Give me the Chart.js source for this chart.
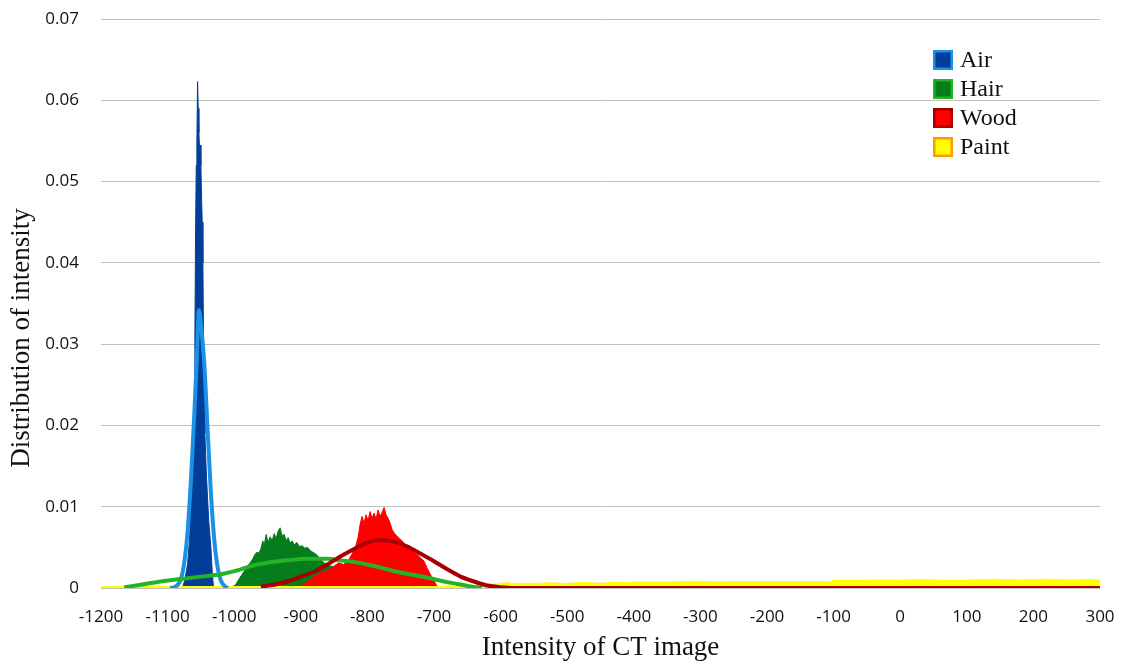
<!DOCTYPE html>
<html>
<head>
<meta charset="utf-8">
<title>Distribution of intensity</title>
<script src="https://cdn.jsdelivr.net/npm/chart.js@4.4.1/dist/chart.umd.min.js"></script>
<style>
  html, body { margin: 0; padding: 0; background: #fff; }
  #wrap { width: 1121px; height: 664px; }
</style>
</head>
<body>
<div id="wrap"><canvas id="chart" width="1121" height="664"></canvas></div>
<script>
// series names and axis labels
const seriesNames = ['Air', 'Hair', 'Wood', 'Paint'];
const yTickLabels = ['0', '0.01', '0.02', '0.03', '0.04', '0.05', '0.06', '0.07'];
const xTitle = 'Intensity of CT image';
const yTitle = 'Distribution of intensity';

// histograms, [intensity, distribution]
const airHist = [
  [-1078, 0], [-1074, 0.001], [-1070, 0.003], [-1067, 0.006], [-1064, 0.0125], [-1062, 0.017],
  [-1060, 0.022], [-1059, 0.031], [-1058, 0.044], [-1057, 0.052], [-1056, 0.055], [-1055, 0.0623],
  [-1054, 0.059], [-1053, 0.056], [-1052, 0.054], [-1051, 0.0545], [-1050, 0.052], [-1049, 0.048],
  [-1048, 0.045], [-1047, 0.040], [-1046, 0.030], [-1045, 0.024], [-1044, 0.019], [-1042, 0.0145],
  [-1040, 0.011], [-1038, 0.008], [-1035, 0.005], [-1033, 0.002], [-1031, 0]
];
const hairHist = [
  [-1005, 0], [-998, 0.0004], [-992, 0.0012], [-988, 0.0017], [-984, 0.0022], [-980, 0.0027],
  [-976, 0.0031], [-972, 0.0036], [-969, 0.0041], [-966, 0.0044], [-963, 0.0043], [-960, 0.0048],
  [-957, 0.0058], [-955, 0.0052], [-952, 0.0066], [-949, 0.0056], [-946, 0.0063], [-943, 0.0058],
  [-940, 0.0067], [-937, 0.0061], [-934, 0.0070], [-931, 0.0074], [-928, 0.0064], [-925, 0.0066],
  [-922, 0.0058], [-919, 0.0062], [-916, 0.0055], [-913, 0.0058], [-910, 0.0053], [-906, 0.0056],
  [-902, 0.0051], [-898, 0.0052], [-894, 0.0049], [-890, 0.0050], [-886, 0.0046], [-882, 0.0044],
  [-878, 0.0042], [-874, 0.0039], [-870, 0.0035], [-865, 0.0031], [-860, 0.0028], [-850, 0.0026],
  [-840, 0.0030], [-830, 0.0022], [-820, 0.0016], [-810, 0.0010], [-800, 0.0005], [-790, 0]
];
const woodHist = [
  [-905, 0], [-890, 0.0008], [-878, 0.0015], [-868, 0.0020], [-858, 0.0022], [-850, 0.0027],
  [-843, 0.0031], [-836, 0.0029], [-829, 0.0033], [-823, 0.0042], [-818, 0.0050], [-814, 0.0062],
  [-811, 0.0078], [-808, 0.0088], [-805, 0.0080], [-802, 0.0090], [-799, 0.0083], [-796, 0.0094],
  [-793, 0.0086], [-790, 0.0092], [-787, 0.0085], [-784, 0.0096], [-781, 0.0088], [-778, 0.0093],
  [-775, 0.0099], [-772, 0.0090], [-769, 0.0086], [-766, 0.0080], [-763, 0.0072], [-760, 0.0068],
  [-756, 0.0064], [-752, 0.0061], [-748, 0.0058], [-744, 0.0054], [-740, 0.0051], [-735, 0.0047],
  [-730, 0.0044], [-725, 0.0041], [-720, 0.0037], [-715, 0.0033], [-710, 0.0024], [-705, 0.0016],
  [-700, 0.0009], [-694, 0]
];
const paintHist = [
  [-1200, 0], [-620, 0], [-616, 0.0003], [-600, 0.00035], [-590, 0.0005], [-585, 0.00035],
  [-560, 0.0004], [-546, 0.00038], [-530, 0.00045], [-500, 0.00038], [-480, 0.0005], [-450, 0.0004],
  [-430, 0.00052], [-410, 0.00045], [-400, 0.00054], [-350, 0.00056], [-320, 0.00065], [-270, 0.00058],
  [-230, 0.0006], [-200, 0.00062], [-165, 0.0006], [-130, 0.0006], [-101, 0.00058], [-100, 0.00076],
  [-60, 0.00078], [-20, 0.0008], [0, 0.00078], [30, 0.0009], [60, 0.00078], [100, 0.0008],
  [140, 0.0009], [180, 0.0008], [220, 0.0009], [260, 0.0008], [280, 0.0009], [300, 0.0008]
];

// fitted curves
const airFit = [
  [-1096, 0], [-1090, 0.0001], [-1085, 0.0004], [-1080, 0.0011], [-1075, 0.0031], [-1070, 0.0069],
  [-1065, 0.0132], [-1060, 0.0212], [-1056, 0.0285], [-1053, 0.0342], [-1050, 0.0325], [-1045, 0.0277],
  [-1040, 0.0196], [-1035, 0.0117], [-1030, 0.0060], [-1025, 0.0026], [-1020, 0.0009], [-1015, 0.0003],
  [-1010, 0]
];
const hairFit = [
  [-1165, 0.0001], [-1140, 0.0004], [-1110, 0.0008], [-1080, 0.0011], [-1050, 0.0014], [-1020, 0.0017],
  [-990, 0.0023], [-970, 0.0028], [-950, 0.0031], [-920, 0.0034], [-890, 0.0036], [-860, 0.0036],
  [-840, 0.0034], [-820, 0.0032], [-800, 0.0029], [-780, 0.0025], [-756, 0.0020], [-730, 0.0016],
  [-706, 0.0012], [-685, 0.0008], [-665, 0.0005], [-645, 0.0002], [-628, 0]
];
const woodFit = [
  [-960, 0.0002], [-940, 0.0004], [-920, 0.0008], [-900, 0.0014], [-880, 0.0020], [-860, 0.0029],
  [-840, 0.0039], [-820, 0.0048], [-800, 0.0056], [-780, 0.0059], [-760, 0.0057], [-740, 0.0051],
  [-720, 0.0042], [-700, 0.0033], [-680, 0.0023], [-660, 0.0014], [-640, 0.0008], [-620, 0.0003],
  [-600, 0.0001], [-580, 0], [300, 0]
];

const fillColors = ['#023d97', '#067d1c', '#ff0000', '#ffff00'];
const edgeColors = ['#1a90e6', '#25b325', '#a80000', '#ff9a00'];

const pts = arr => arr.map(([x, y]) => ({ x, y }));

function histSet(name, arr, color, order) {
  return {
    label: name, data: pts(arr), order,
    borderColor: color, backgroundColor: color,
    borderWidth: 1, pointRadius: 0, fill: 'origin', tension: 0
  };
}
function fitSet(name, arr, color, order) {
  return {
    label: name + ' fit', data: pts(arr), order,
    borderColor: color, borderWidth: 4, pointRadius: 0, fill: false,
    cubicInterpolationMode: 'monotone'
  };
}

// draws legend inside the plot and the vertical axis title
const overlay = {
  id: 'overlay',
  afterDraw(chart) {
    const { ctx, chartArea } = chart;
    ctx.save();
    const left = chartArea.right - 167;
    ctx.font = '24px "Liberation Serif"';
    ctx.textBaseline = 'middle';
    ctx.textAlign = 'left';
    seriesNames.forEach((name, i) => {
      const y = chartArea.top + 41 + i * 29;
      ctx.fillStyle = fillColors[i];
      ctx.fillRect(left, y - 10, 20, 20);
      ctx.strokeStyle = edgeColors[i];
      ctx.lineWidth = 2.5;
      ctx.strokeRect(left + 1.25, y - 8.75, 17.5, 17.5);
      ctx.fillStyle = '#111';
      ctx.fillText(name, left + 27, y + 1);
    });
    ctx.translate(22, 338);
    ctx.rotate(-Math.PI / 2);
    ctx.textAlign = 'center';
    ctx.font = '27px "Liberation Serif"';
    ctx.fillText(yTitle, 0, 0);
    ctx.restore();
  }
};

new Chart(document.getElementById('chart'), {
  type: 'line',
  data: {
    datasets: [
      fitSet('Wood', woodFit, edgeColors[2], 0),
      fitSet('Hair', hairFit, edgeColors[1], 1),
      fitSet('Air', airFit, edgeColors[0], 2),
      Object.assign(histSet('Paint', paintHist, fillColors[3], 3), { borderWidth: 4 }),
      histSet('Wood', woodHist, fillColors[2], 4),
      histSet('Hair', hairHist, fillColors[1], 5),
      histSet('Air', airHist, fillColors[0], 6)
    ]
  },
  options: {
    responsive: false,
    animation: false,
    layout: { padding: { top: 19, right: 21, left: 0, bottom: 0 } },
    plugins: { legend: { display: false }, tooltip: { enabled: false } },
    scales: {
      x: {
        type: 'linear', min: -1200, max: 300,
        afterFit: s => { s.height = 76; s.paddingLeft = 0; s.paddingRight = 0; },
        grid: { display: false },
        border: { display: false },
        ticks: {
          stepSize: 100, padding: 11, maxRotation: 0, autoSkip: false,
          color: '#111', font: { family: 'Open Sans', size: 17 },
          callback: v => String(v)
        },
        title: {
          display: true, text: xTitle, color: '#111',
          font: { family: 'Liberation Serif', size: 27 },
          padding: { top: -1, bottom: 0 }
        }
      },
      y: {
        min: 0, max: 0.07,
        afterFit: s => { s.width = 101; s.paddingTop = 0; s.paddingBottom = 0; },
        grid: { color: '#c0c0c0', lineWidth: 1, drawTicks: false },
        border: { display: false },
        ticks: {
          stepSize: 0.01, padding: 22,
          color: '#111', font: { family: 'Open Sans', size: 17 },
          callback: (v, i) => yTickLabels[i]
        }
      }
    }
  },
  plugins: [overlay]
});
</script>
</body>
</html>
